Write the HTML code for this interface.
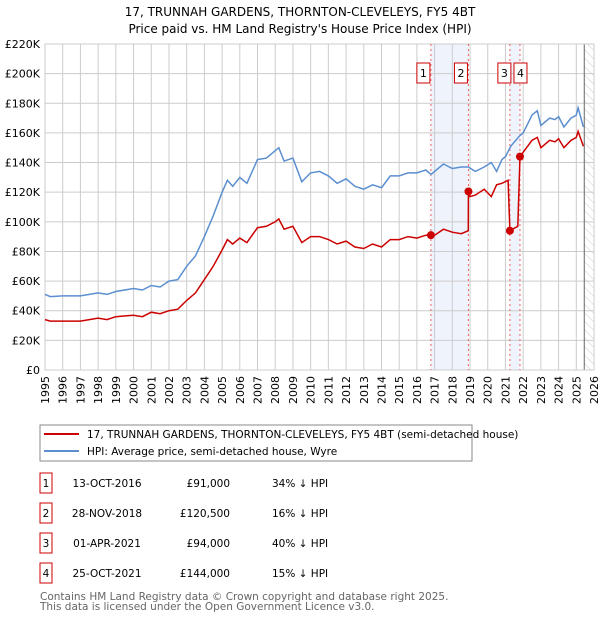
<!DOCTYPE html>
<html><head><meta charset="utf-8"><style>
body{margin:0;background:#fff;width:600px;height:620px;overflow:hidden;font-family:"DejaVu Sans","Liberation Sans",sans-serif;}
svg text{font-family:"DejaVu Sans","Liberation Sans",sans-serif;}
</style></head><body>
<svg id="c" width="600" height="620" xmlns="http://www.w3.org/2000/svg">
<text x="300" y="16" text-anchor="middle" font-size="12" fill="#000">17, TRUNNAH GARDENS, THORNTON-CLEVELEYS, FY5 4BT</text>
<text x="300" y="33" text-anchor="middle" font-size="12" fill="#000">Price paid vs. HM Land Registry's House Price Index (HPI)</text>
<defs><pattern id="hatch" width="6" height="6" patternUnits="userSpaceOnUse" patternTransform="rotate(-45)"><line x1="0" y1="0" x2="0" y2="6" stroke="#ccc" stroke-width="1"/></pattern></defs>
<g id="plot"></g>
<rect x="40" y="425" width="432" height="36" fill="#fff" stroke="#888"/>
<line x1="44" y1="434" x2="79" y2="434" stroke="#cc0000" stroke-width="2"/>
<text x="87" y="438" font-size="10.5">17, TRUNNAH GARDENS, THORNTON-CLEVELEYS, FY5 4BT (semi-detached house)</text>
<line x1="44" y1="451" x2="79" y2="451" stroke="#5b8fd0" stroke-width="2"/>
<text x="87" y="455" font-size="10.5">HPI: Average price, semi-detached house, Wyre</text>
<g id="table" font-size="10.5"></g>
<text x="40" y="600" font-size="10.5" fill="#666">Contains HM Land Registry data © Crown copyright and database right 2025.</text>
<text x="40" y="610" font-size="10.5" fill="#666">This data is licensed under the Open Government Licence v3.0.</text>
</svg>
<script>
const hpiYears=[1995,1995.3,1996,1997,1998,1998.5,1999,2000,2000.5,2001,2001.5,2002,2002.5,2003,2003.5,2004,2004.5,2005,2005.3,2005.6,2006,2006.4,2007,2007.5,2008,2008.2,2008.5,2009,2009.5,2010,2010.5,2011,2011.5,2012,2012.5,2013,2013.5,2014,2014.5,2015,2015.5,2016,2016.5,2016.8,2017,2017.5,2018,2018.5,2018.9,2019.3,2019.8,2020.2,2020.5,2020.8,2021,2021.3,2021.8,2022,2022.5,2022.8,2023,2023.5,2023.8,2024,2024.3,2024.7,2025,2025.1,2025.4];
const hpiValues=[51,49.5,50,50,52,51,53,55,54,57,56,60,61,70,77,90,104,120,128,124,130,126,142,143,148,150,141,143,127,133,134,131,126,129,124,122,125,123,131,131,133,133,135,132,134,139,136,137,137,134,137,140,134,142,144,151,158,160,172,175,165,170,169,171,164,170,172,177,164];
const priceYears=[1995,1995.3,1996,1997,1998,1998.5,1999,2000,2000.5,2001,2001.5,2002,2002.5,2003,2003.5,2004,2004.5,2005,2005.3,2005.6,2006,2006.4,2007,2007.5,2008,2008.2,2008.5,2009,2009.5,2010,2010.5,2011,2011.5,2012,2012.5,2013,2013.5,2014,2014.5,2015,2015.5,2016,2016.5,2016.79,2017,2017.5,2018,2018.5,2018.9,2018.91,2019.0,2019.3,2019.8,2020.2,2020.5,2020.8,2021.15,2021.25,2021.7,2021.82,2022,2022.5,2022.8,2023,2023.5,2023.8,2024,2024.3,2024.7,2025,2025.1,2025.4];
const priceValues=[34,33,33,33,35,34,36,37,36,39,38,40,41,47,52,61,70,81,88,85,89,86,96,97,100,102,95,97,86,90,90,88,85,87,83,82,85,83,88,88,90,89,91,91,91,95,93,92,94,120.5,117,118,122,117,125,126,128,94,97,144,147,155,157,150,155,154,156,150,155,157,161,151];
const saleYears=[2016.79,2018.91,2021.25,2021.82];
const saleValues=[91,120.5,94,144];
const saleDates=["13-OCT-2016","28-NOV-2018","01-APR-2021","25-OCT-2021"];
const salePrices=["£91,000","£120,500","£94,000","£144,000"];
const saleDiffs=["34% ↓ HPI","16% ↓ HPI","40% ↓ HPI","15% ↓ HPI"];
const yTicks=[0,20,40,60,80,100,120,140,160,180,200,220];
const xTicks=[1995,1996,1997,1998,1999,2000,2001,2002,2003,2004,2005,2006,2007,2008,2009,2010,2011,2012,2013,2014,2015,2016,2017,2018,2019,2020,2021,2022,2023,2024,2025,2026];
const X0=45,X1=594,Y0=370,Y1=44;
const sx=y=>X0+(y-1995)/(2026-1995)*(X1-X0);
const sy=v=>Y0-v/220*(Y0-Y1);
const NS="http://www.w3.org/2000/svg";
const plot=document.getElementById('plot');
function mk(tag,attrs,parent){const e=document.createElementNS(NS,tag);for(const k in attrs)e.setAttribute(k,attrs[k]);(parent||plot).appendChild(e);return e;}
let r=mk('rect',{x:X0,y:Y1,width:X1-X0,height:Y0-Y1,fill:'#fff'});


let s=mk('rect',{x:sx(saleYears[0]),y:Y1,width:sx(saleYears[1])-sx(saleYears[0]),height:Y0-Y1,fill:'#eef3fc'});


s=mk('rect',{x:sx(saleYears[2]),y:Y1,width:sx(saleYears[3])-sx(saleYears[2]),height:Y0-Y1,fill:'#eef3fc'});


let h=mk('rect',{x:sx(2025.45),y:Y1,width:X1-sx(2025.45),height:Y0-Y1,fill:'url(#hatch)'});


yTicks.forEach(v=>{
 let l=mk('line',{x1:X0,x2:X1,y1:sy(v),y2:sy(v),stroke:'#ccc','stroke-width':1});
 
 
 let t=mk('text',{x:X0-5,y:sy(v)+4,'text-anchor':'end','font-size':11});
 t.textContent=v===0?'£0':'£'+v+'K';
 
 
});
xTicks.forEach(y=>{
 let l=mk('line',{x1:sx(y),x2:sx(y),y1:Y1,y2:Y0,stroke:'#ccc','stroke-width':1});
 
 
 const tx=sx(y)+4,ty=Y0+6;
 let t=mk('text',{x:tx,y:ty,'text-anchor':'end','font-size':11,transform:`rotate(-90 ${tx} ${ty})`});
 t.textContent=y;
 
 
});
let vl=mk('line',{x1:sx(2025.45),x2:sx(2025.45),y1:Y1,y2:Y0,stroke:'#666','stroke-width':1});


let fr=mk('rect',{x:X0,y:Y1,width:X1-X0,height:Y0-Y1,fill:'none',stroke:'#ccc'});


saleYears.forEach((y,i)=>{
 let l=mk('line',{x1:sx(y),x2:sx(y),y1:Y1,y2:Y0,stroke:'#f06060','stroke-width':1,'stroke-dasharray':'2,3'});
 
 
});
const pts=(xs,vs)=>xs.map((x,i)=>sx(x).toFixed(1)+','+sy(vs[i]).toFixed(1)).join(' ');
let hp=mk('polyline',{points:pts(hpiYears,hpiValues),fill:'none',stroke:'#5b8fd0','stroke-width':1.5});


let pp=mk('polyline',{points:pts(priceYears,priceValues),fill:'none',stroke:'#cc0000','stroke-width':1.5});


const labelX=[-8,-8,-6,0];
saleYears.forEach((y,i)=>{
 let c=mk('circle',{cx:sx(y),cy:sy(saleValues[i]),r:4,fill:'#cc0000'});
 
 
 let bx=sx(y)+labelX[i]-6;
 let b=mk('rect',{x:bx,y:63,width:13,height:20,fill:'#fff',stroke:'#cc0000'});
 
 
 let t=mk('text',{x:bx+6.5,y:77,'text-anchor':'middle','font-size':11});
 t.textContent=i+1;
 
 
});
const tb=document.getElementById('table');
saleDates.forEach((d,i)=>{
 const cy=483+i*30;
 let b=mk('rect',{x:40,y:cy-10,width:12,height:20,fill:'#fff',stroke:'#cc0000'},tb);
 
 
 let n=mk('text',{x:46,y:cy+4,'text-anchor':'middle'},tb);n.textContent=i+1;
 
 
 let a=mk('text',{x:107,y:cy+4,'text-anchor':'middle'},tb);a.textContent=d;
 
 
 let p=mk('text',{x:230,y:cy+4,'text-anchor':'end'},tb);p.textContent=salePrices[i];
 
 
 let q=mk('text',{x:272,y:cy+4},tb);q.textContent=saleDiffs[i];
 
 
});
</script>
</body></html>
